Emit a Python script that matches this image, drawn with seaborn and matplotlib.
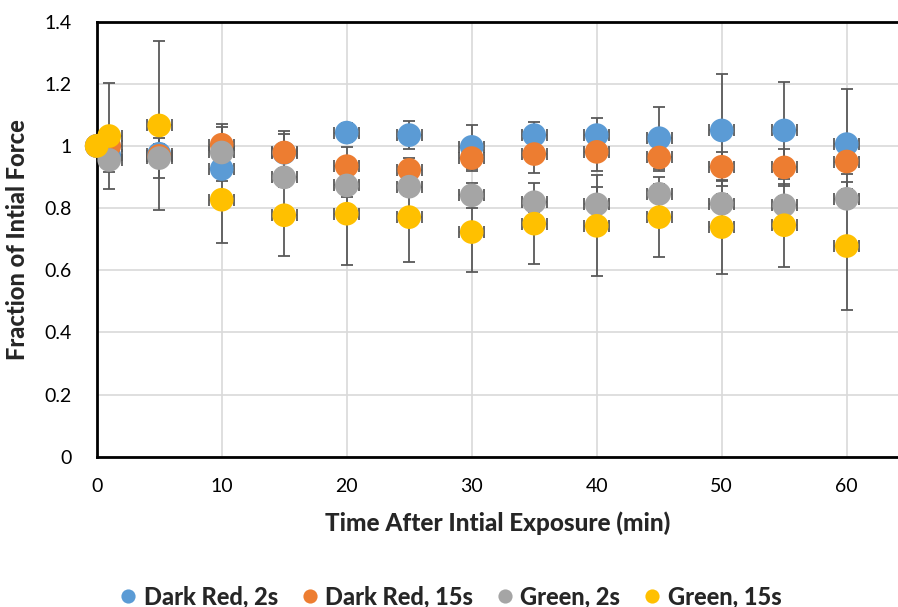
import numpy as np
import pandas as pd
import seaborn as sns
import matplotlib.pyplot as plt
from matplotlib.font_manager import FontProperties

# ---------------- data ----------------
times = [0, 1, 5, 10, 15, 20, 25, 30, 35, 40, 45, 50, 55, 60]
series_names = ["Dark Red, 2s", "Dark Red, 15s", "Green, 2s", "Green, 15s"]

dark_red_2s = [1.0, 0.97, 0.975, 0.926, 0.978, 1.043, 1.035, 0.997, 1.035, 1.035, 1.025, 1.050, 1.050, 1.006]
dark_red_2s_err = [0.0, 0.03, 0.03, 0.04, 0.06, 0.03, 0.045, 0.07, 0.041, 0.055, 0.10, 0.18, 0.155, 0.176]

dark_red_15s = [1.0, 1.0, 0.968, 1.004, 0.979, 0.935, 0.923, 0.961, 0.974, 0.981, 0.963, 0.933, 0.931, 0.950]
dark_red_15s_err = [0.0, 0.03, 0.03, 0.068, 0.069, 0.062, 0.038, 0.04, 0.061, 0.063, 0.042, 0.046, 0.059, 0.04]

green_2s = [1.0, 0.955, 0.961, 0.979, 0.899, 0.873, 0.869, 0.841, 0.819, 0.812, 0.846, 0.814, 0.809, 0.830]
green_2s_err = [0.0, 0.04, 0.065, 0.082, 0.03, 0.038, 0.03, 0.04, 0.03, 0.057, 0.03, 0.03, 0.03, 0.03]

green_15s = [1.0, 1.032, 1.066, 0.827, 0.777, 0.782, 0.771, 0.723, 0.750, 0.743, 0.771, 0.739, 0.745, 0.678]
green_15s_err = [0.0, 0.17, 0.272, 0.139, 0.13, 0.165, 0.144, 0.129, 0.131, 0.163, 0.128, 0.151, 0.134, 0.205]

time_err = 1.0

x_ticks = [0, 10, 20, 30, 40, 50, 60]
y_ticks = [0, 0.2, 0.4, 0.6, 0.8, 1.0, 1.2, 1.4]
y_tick_labels = ["0", "0.2", "0.4", "0.6", "0.8", "1", "1.2", "1.4"]

colors = ["#5B9BD5", "#ED7D31", "#A5A5A5", "#FFC000"]

# ---------------- build table ----------------
vals = [dark_red_2s, dark_red_15s, green_2s, green_15s]
errs = [dark_red_2s_err, dark_red_15s_err, green_2s_err, green_15s_err]
frames = []
for name, v, e in zip(series_names, vals, errs):
    frames.append(pd.DataFrame({"time": times, "value": v, "err": e, "series": name}))
df = pd.concat(frames, ignore_index=True)

# ---------------- plot ----------------
sns.set_theme(style="white")
plt.rcParams["font.family"] = ["Lato", "DejaVu Sans"]

fig = plt.figure(figsize=(8.98, 6.07), dpi=100)
ax = fig.add_axes([0.1077, 0.2476, 0.8923, 0.7167])

for name in series_names:
    sub = df[df["series"] == name]
    ax.errorbar(sub["time"], sub["value"], yerr=sub["err"], xerr=time_err,
                fmt="none", ecolor="#595959", elinewidth=1.3, capsize=4.5,
                capthick=1.3, zorder=2)

sns.scatterplot(data=df, x="time", y="value", hue="series",
                hue_order=series_names, palette=colors, s=290,
                linewidth=0, ax=ax, zorder=3, clip_on=False)

ax.set_xlim(0, 64.1)
ax.set_ylim(0, 1.4)
ax.set_xticks(x_ticks)
ax.set_yticks(y_ticks)
ax.set_yticklabels(y_tick_labels)
ax.grid(True, color="#D9D9D9", linewidth=1.2, zorder=0)
ax.set_axisbelow(True)

for side in ["left", "bottom", "top"]:
    ax.spines[side].set_visible(True)
    ax.spines[side].set_color("black")
    ax.spines[side].set_linewidth(2)
ax.spines["right"].set_visible(False)

ax.tick_params(axis="both", length=0, labelsize=14, colors="black")
ax.tick_params(axis="x", pad=15)
ax.tick_params(axis="y", pad=18)

ax.set_xlabel("Time After Intial Exposure (min)", fontsize=17.5, fontweight="black", labelpad=12)
ax.set_ylabel("Fraction of Intial Force", fontsize=17, fontweight="black", labelpad=11)

handles, labels = ax.get_legend_handles_labels()
ax.get_legend().remove()
legend_font = FontProperties(family=["Lato", "DejaVu Sans"], weight="black", size=17)
leg = fig.legend(handles, labels, loc="center", bbox_to_anchor=(0.5, 0.017), ncol=4,
                 frameon=False, markerscale=0.6, handletextpad=0.15, columnspacing=0.85,
                 handlelength=1.0, prop=legend_font)

fig.savefig("out.png", dpi=100)
